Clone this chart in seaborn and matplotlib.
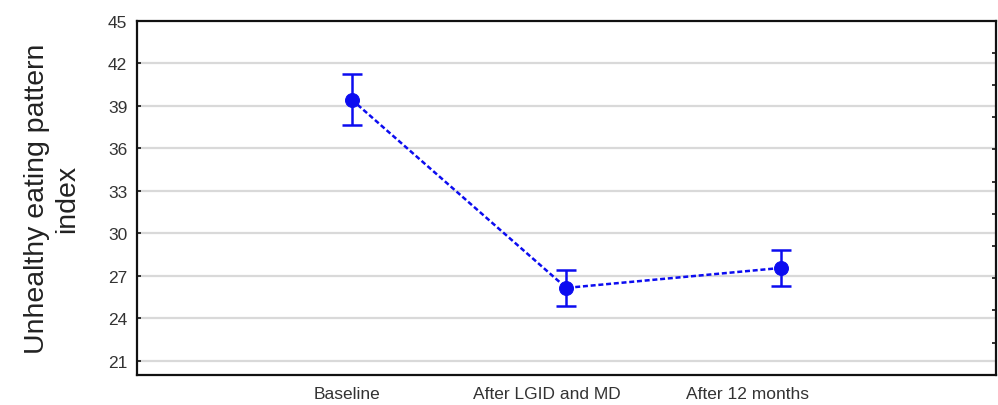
import numpy as np
import pandas as pd
import matplotlib
matplotlib.use("Agg")
import matplotlib.pyplot as plt
import seaborn as sns

# values (mean +/- error bar half width)
timepoints = ["Baseline", "After LGID and MD", "After 12 months"]
means = [39.43, 26.13, 27.54]
err_half = [1.77, 1.29, 1.26]
ytick_vals = [21, 24, 27, 30, 33, 36, 39, 42, 45]

sns.set_style("white")
plt.rcParams['font.family'] = ['Liberation Sans', 'DejaVu Sans']

df = pd.DataFrame({"time": timepoints, "mean": means, "err": err_half})
df["pos"] = np.arange(len(df))

blue = "#0c0cf0"

fig = plt.figure(figsize=(9.98, 4.06), dpi=100)
ax = fig.add_axes([0.1373, 0.0746, 0.8603, 0.872])

# grid first so it sits under the line
for y in ytick_vals[:-1]:
    ax.axhline(y, color="#d9d9d9", lw=1.6, zorder=0)

sns.lineplot(data=df, x="pos", y="mean", ax=ax, color=blue, lw=1.8,
             ls=(0, (2, 1.1)), marker="o", markersize=10,
             markeredgecolor=blue, zorder=3)
ax.errorbar(df["pos"], df["mean"], yerr=df["err"], fmt="none",
            ecolor=blue, elinewidth=1.8, capsize=7.5, capthick=1.8, zorder=3)

ax.set_xlim(-1, 3)
ax.set_ylim(20, 45)
ax.set_yticks(ytick_vals)
# the category labels in the original sit a bit left of the points
ax.set_xticks([-0.02, 0.91, 1.846])
ax.set_xticklabels(timepoints)
ax.set_xlabel("")
ax.set_ylabel("Unhealthy eating pattern\nindex", fontsize=20.5, labelpad=20,
              color="#222222")
ax.tick_params(axis="both", direction="in", length=3, width=1.2,
               labelsize=12.5, colors="#111111", labelcolor="#333333")
ax.tick_params(axis="x", pad=8)
ax.tick_params(axis="y", pad=7)

for sp in ax.spines.values():
    sp.set_visible(True)
    sp.set_color("#111111")
    sp.set_linewidth(1.6)

# right hand axis carries its own unlabelled tick marks
ax2 = ax.twinx()
ax2.set_ylim(0, 11)
ax2.set_yticks(range(1, 11))
ax2.set_yticklabels([])
ax2.tick_params(axis="y", direction="in", length=3, width=1.2, colors="#111111")
for sp in ax2.spines.values():
    sp.set_visible(False)

fig.savefig("out.png", dpi=100, facecolor="white")
